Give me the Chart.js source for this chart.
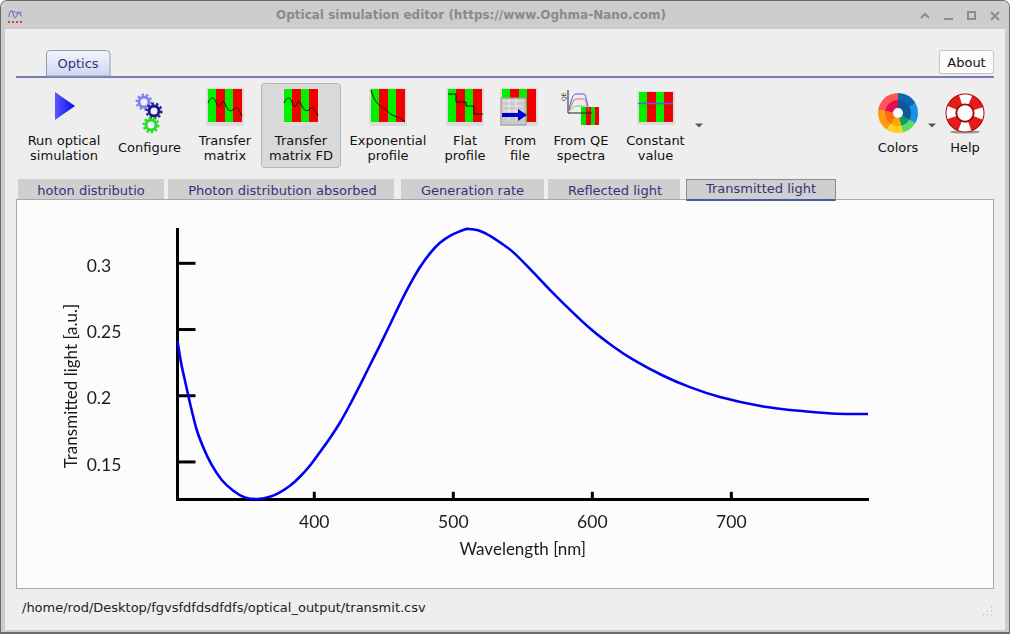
<!DOCTYPE html>
<html><head><meta charset="utf-8">
<title>Optical simulation editor</title>
<script src="https://cdn.jsdelivr.net/npm/chart.js@4"></script>
<style>
html,body{margin:0;padding:0;background:#fff;width:1010px;height:634px;overflow:hidden}
body{font-family:"DejaVu Sans",sans-serif;position:relative}
.abs,.lbl,.tab{position:absolute}
#win{position:absolute;left:0;top:0;width:1010px;height:634px;box-sizing:border-box;background:#eeeeee;border:1px solid #6a6a6a;border-top-left-radius:7px;border-top-right-radius:7px;border-bottom:2px solid #6a6a6a;overflow:hidden}
#title{position:absolute;left:1px;top:1px;width:1008px;height:28px;background:#cdcdcd;border-top-left-radius:6px;border-top-right-radius:6px}
#ttext{position:absolute;left:200px;top:6px;width:542px;text-align:center;font-weight:bold;font-size:12px;color:#8a8a8a;line-height:18px;white-space:nowrap}
.edge{position:absolute;background:#cdcdcd}
.lbl{font-size:13px;line-height:15px;color:#111;text-align:center;white-space:nowrap;transform:translateX(-50%)}
.tab{top:179px;height:21px;background:#cfcfcf;color:#33337a;font-size:13px;line-height:23px;text-align:center;white-space:nowrap;overflow:hidden}
#panel{position:absolute;left:16px;top:199px;width:978px;height:390px;box-sizing:border-box;background:#fcfcfc;border:1px solid #a8a8a8}
#cw{position:absolute;left:17px;top:200px;width:976px;height:388px}
#status{position:absolute;left:22px;top:600px;font-size:13px;line-height:15px;color:#222;white-space:nowrap}
svg{position:absolute;overflow:visible}
</style></head><body>
<div id="win"></div>
<div id="title"></div>
<div class="edge" style="left:1px;top:28px;width:4px;height:603px"></div>
<div class="edge" style="left:1005px;top:28px;width:4px;height:603px"></div>
<div class="edge" style="left:1px;top:630px;width:1008px;height:2px"></div>
<div id="ttext">Optical simulation editor (https://www.Oghma-Nano.com)</div>

<svg style="left:0;top:0" width="1010" height="634">
<defs>
 <linearGradient id="tb" x1="0" y1="0" x2="0" y2="1"><stop offset="0" stop-color="#f4f4fa"/><stop offset="1" stop-color="#cfd7f2"/></linearGradient>
 <linearGradient id="run" x1="0" y1="0" x2="1" y2="0"><stop offset="0" stop-color="#5a5aff"/><stop offset="1" stop-color="#0808e8"/></linearGradient>
 <g id="bars"><rect x="0" y="0" width="38" height="38" fill="#dcdcdc"/><rect x="2" y="1" width="8" height="33" fill="#00f000"/><rect x="10" y="1" width="9" height="33" fill="#f00000"/><rect x="19" y="1" width="8" height="33" fill="#00f000"/><rect x="27" y="1" width="9" height="33" fill="#f00000"/></g>
 <path id="wave" d="M2 15C5 8 8 9 10 14S13 20 15 16 18 13 20 18 25 24 28 21 32 20 36 28" fill="none" stroke="#111" stroke-width="1"/>
 <g id="gear"><circle r="5" fill="#eef" stroke-width="3"/><circle r="7.4" fill="none" stroke-width="2.2" stroke-dasharray="2.4 2.2"/></g>
</defs>
<!-- icons -->
<path d="M55 92L75 106 55 120Z" fill="url(#run)"/>
<use href="#gear" x="144" y="102" stroke="#8080ee"/><use href="#gear" x="154" y="111" stroke="#1a1a88"/><use href="#gear" x="151" y="125" stroke="#22dd22"/>
<use href="#bars" x="206" y="88"/><use href="#wave" x="206" y="88"/>
<rect x="261.5" y="83.5" width="79" height="84" rx="3" fill="#d9d9d9" stroke="#b6b6b6"/>
<use href="#bars" x="282" y="88"/><use href="#wave" x="282" y="88"/>
<use href="#bars" x="369" y="88"/><path d="M371 90C374 100 377 104 382 107S390 115 397 117 402 121 405 122" fill="none" stroke="#111"/>
<use href="#bars" x="446" y="88"/><path d="M448 94H456V102H466V106H474V114H483" fill="none" stroke="#111"/>
<use href="#bars" x="500" y="88"/><rect x="501" y="98" width="25" height="27" fill="#c9c9c9" stroke="#999"/><path d="M503 101h20M503 106h20M503 111h20M509 99v22M516 99v22" stroke="#eee"/><path d="M502 113H518V109L527 115 518 121V117H502Z" fill="#0000d0"/>
<rect x="580" y="106" width="20" height="19" fill="#eee"/><rect x="581" y="107" width="5" height="18" fill="#00e000"/><rect x="586" y="107" width="5" height="18" fill="#f00000"/><rect x="591" y="107" width="4" height="18" fill="#00e000"/><rect x="595" y="107" width="4" height="18" fill="#f00000"/>
<path d="M568 90V113H592" fill="none" stroke="#222"/><path d="M568 112C572 100 572 94 576 94H584C586 94 586 100 589 110" fill="none" stroke="#4455ee"/><path d="M568 112C573 104 573 99 576 99H584C586 99 586 104 589 111" fill="none" stroke="#ee6666"/>
<path d="M568 112C573 108 574 106 578 106H586" fill="none" stroke="#66cc66"/>
<text x="566" y="101" font-size="6" fill="#333" transform="rotate(-90 566 101)">QE</text>
<rect x="637" y="91" width="38" height="34" fill="#dcdcdc"/><rect x="639" y="92" width="8" height="30" fill="#00f000"/><rect x="647" y="92" width="9" height="30" fill="#f00000"/><rect x="656" y="92" width="8" height="30" fill="#00f000"/><rect x="664" y="92" width="9" height="30" fill="#f00000"/><path d="M638 103.5H673" stroke="#5566dd" stroke-width="1.3"/>
<path d="M695 123.5h8l-4 4zM928 123.5h8l-4 4z" fill="#555"/>
<!-- help -->
<ellipse cx="965" cy="132" rx="15" ry="1.6" fill="#999"/>
<circle cx="965" cy="113" r="14" fill="none" stroke="#a80000" stroke-width="11"/>
<circle cx="965" cy="113" r="14" fill="none" stroke="#e41c1c" stroke-width="9"/>
<circle cx="965" cy="113" r="14" fill="none" stroke="#fff" stroke-width="9" stroke-dasharray="10 12" stroke-dashoffset="5"/>
<circle cx="965" cy="113" r="8.5" fill="#fff" stroke="#a80000" stroke-width="1.5"/>
<!-- top rule -->
<path d="M16 77H994" stroke="#4b57a6" stroke-width="1.5"/>
<path d="M46.5 76V54a3.5 3.5 0 0 1 3.5-3.5h56.5a3.5 3.5 0 0 1 3.5 3.5V76Z" fill="url(#tb)" stroke="#9a9ab4"/>
<rect x="939.5" y="50.5" width="54" height="23" rx="2" fill="#fbfbfb" stroke="#c4c4c4"/>
<!-- window buttons -->
<path d="M921 18l4-4 4 4" fill="none" stroke="#8c8c8c" stroke-width="2"/>
<path d="M944 19h9" stroke="#8c8c8c" stroke-width="2"/>
<rect x="968" y="12" width="7" height="7" fill="none" stroke="#8c8c8c" stroke-width="2"/>
<path d="M991 12l8 8m0-8l-8 8" stroke="#8c8c8c" stroke-width="2"/>
<!-- app icon -->
<path d="M9 17c0-6 3-8 4-4s1 6 3 4 1-6 3-5 1 5 3 4" fill="none" stroke="#5555dd"/>
<path d="M10 12c4-3 8 4 12 0" fill="none" stroke="#dd5577"/>
<path d="M8 22h2m2 0h2m2 0h2m2 0h2" stroke="#e01010" stroke-width="1.4"/>
<!-- grip -->
<path d="M983 615h1m3 0h1m3 0h1M987 611h1m3 0h1M991 607h1" stroke="#b0b0b0"/>
</svg>

<div class="abs" style="left:878px;top:93px;width:40px;height:40px;border-radius:50%;background:conic-gradient(#0a66ae 0 60deg,#1c8fe6 60deg 120deg,#57dd68 120deg 165deg,#ffd21c 165deg 215deg,#ff9a12 215deg 280deg,#ff5558 280deg 360deg)"></div>
<div class="abs" style="left:885px;top:100px;width:26px;height:26px;border-radius:50%;background:conic-gradient(#0c5a9c 0 120deg,#0e9a6a 120deg 165deg,#f5a800 165deg 215deg,#ff6a10 215deg 280deg,#e0104f 280deg 360deg)"></div>
<div class="abs" style="left:893px;top:108px;width:10px;height:10px;border-radius:50%;background:#fff"></div>

<div class="abs" style="left:46px;top:50px;width:64px;text-align:center;font-size:13px;line-height:27px;color:#33337a">Optics</div>
<div class="abs" style="left:939px;top:50px;width:55px;text-align:center;font-size:13px;line-height:25px;color:#111">About</div>

<div class="lbl" style="left:64px;top:133px">Run optical<br>simulation</div>
<div class="lbl" style="left:149.5px;top:140px">Configure</div>
<div class="lbl" style="left:225px;top:133px">Transfer<br>matrix</div>
<div class="lbl" style="left:301px;top:133px">Transfer<br>matrix FD</div>
<div class="lbl" style="left:388px;top:133px">Exponential<br>profile</div>
<div class="lbl" style="left:465px;top:133px">Flat<br>profile</div>
<div class="lbl" style="left:520px;top:133px">From<br>file</div>
<div class="lbl" style="left:581px;top:133px">From QE<br>spectra</div>
<div class="lbl" style="left:655.5px;top:133px">Constant<br>value</div>
<div class="lbl" style="left:898px;top:140px">Colors</div>
<div class="lbl" style="left:965px;top:140px">Help</div>

<div class="tab" style="left:18px;width:146px">hoton distributio</div>
<div class="tab" style="left:168px;width:226px;text-indent:3px">Photon distribution absorbed</div>
<div class="tab" style="left:401px;width:143px">Generation rate</div>
<div class="tab" style="left:548px;width:132px;text-indent:2px">Reflected light</div>
<div id="panel"></div>
<div class="tab" style="left:686px;width:148px;height:21px;box-sizing:content-box;border:1px solid #8c8c8c;border-bottom:0;line-height:18px;top:179px;box-shadow:inset 0 -2px 0 #4b57a6">Transmitted light</div>

<div id="cw"><canvas id="c" width="976" height="388"></canvas></div>
<div id="status">/home/rod/Desktop/fgvsfdfdsdfdfs/optical_output/transmit.csv</div>

<script>
const wavelengths = [301.6,304.0,307.1,309.8,312.4,315.3,320.1,326.1,333.3,341.7,350.1,358.5,368.1,375.3,382.5,389.7,396.8,404.0,411.2,418.4,425.6,432.8,440.0,447.2,454.4,461.6,468.8,476.0,483.2,490.4,497.6,504.8,509.8,519.2,526.4,533.6,542.0,557.5,569.5,582.7,599.5,615.0,629.4,651.0,670.2,691.8,722.9,754.1,775.7,798.3];
const transmitted = [0.2415,0.2259,0.2108,0.1981,0.1864,0.1747,0.1611,0.1479,0.1366,0.1283,0.1232,0.1220,0.1237,0.1271,0.1320,0.1388,0.1471,0.1573,0.1679,0.1796,0.1932,0.2079,0.2230,0.2381,0.2536,0.2694,0.2841,0.2970,0.3075,0.3155,0.3208,0.3242,0.3260,0.3245,0.3208,0.3158,0.3094,0.2932,0.2800,0.2662,0.2498,0.2372,0.2272,0.2151,0.2065,0.1990,0.1919,0.1881,0.1864,0.1862];
const xTickValues = [400,500,600,700];
const xTickLabels = ['400','500','600','700'];
const yTickValues = [0.15,0.2,0.25,0.3];
const yTickLabels = ['0.15','0.2','0.25','0.3'];
const xLabel = 'Wavelength [nm]';
const yLabel = 'Transmitted light [a.u.]';
const xLimits = [301.6, 798.3];
const yLimits = [0.1218, 0.3257];

const inwardTicks = {
  id:'inwardTicks',
  beforeDatasetsDraw(chart){
    const {ctx, scales:{x,y}, chartArea:a} = chart;
    ctx.save(); ctx.strokeStyle='#000'; ctx.lineWidth=3;
    x.ticks.forEach(t=>{const p=x.getPixelForValue(t.value); ctx.beginPath(); ctx.moveTo(p,a.bottom); ctx.lineTo(p,a.bottom-7.5); ctx.stroke();});
    y.ticks.forEach(t=>{const p=y.getPixelForValue(t.value); ctx.beginPath(); ctx.moveTo(a.left,p); ctx.lineTo(a.left+18,p); ctx.stroke();});
    ctx.restore();
  }
};
const setTicks = (values) => (scale) => { scale.ticks = values.map(v=>({value:v})); };

new Chart(document.getElementById('c'),{
  type:'line',
  data:{datasets:[{
    data:wavelengths.map((w,i)=>({x:w,y:transmitted[i]})),
    borderColor:'#0000f0',borderWidth:2.6,pointRadius:0,fill:false,clip:false,
    cubicInterpolationMode:'monotone'
  }]},
  options:{
    responsive:false,animation:false,devicePixelRatio:1,
    layout:{padding:{left:69.7,right:125,top:29.3,bottom:0}},
    plugins:{legend:{display:false},tooltip:{enabled:false},title:{display:false}},
    scales:{
      x:{type:'linear',min:xLimits[0],max:xLimits[1],
        afterBuildTicks:setTicks(xTickValues),
        grid:{display:true,drawOnChartArea:false,drawTicks:false},
        border:{color:'#000',width:3},
        afterFit(s){s.height=88.7},
        ticks:{autoSkip:false,maxRotation:0,padding:13,color:'#1c1c1c',font:{family:'Lato',size:17.5},
          callback:(v)=>xTickLabels[xTickValues.indexOf(v)]},
        title:{display:true,text:xLabel,color:'#1c1c1c',font:{family:'Lato',size:17},padding:{top:4,bottom:28}}
      },
      y:{type:'linear',min:yLimits[0],max:yLimits[1],
        afterBuildTicks:setTicks(yTickValues),
        grid:{display:true,drawOnChartArea:false,drawTicks:false},
        border:{color:'#000',width:3},
        afterFit(s){s.width=90.8},
        ticks:{autoSkip:false,crossAlign:'far',padding:8,labelOffset:3,color:'#1c1c1c',font:{family:'Lato',size:17.5},
          callback:(v)=>yTickLabels[yTickValues.indexOf(v)]},
        title:{display:true,text:yLabel+'\u00a0'.repeat(10),color:'#1c1c1c',font:{family:'Lato',size:17},padding:{top:-25,bottom:0}}
      }
    }
  },
  plugins:[inwardTicks]
});
</script>
</body></html>
